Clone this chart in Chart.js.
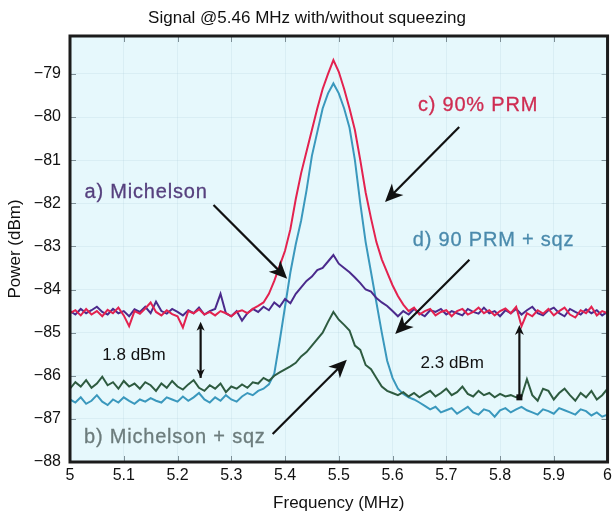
<!DOCTYPE html>
<html>
<head>
<meta charset="utf-8">
<script src="https://cdn.jsdelivr.net/npm/chart.js@4.4.1/dist/chart.umd.min.js"></script>
<style>
  html, body { margin: 0; padding: 0; background: #fff; }
  #wrap { width: 616px; height: 512px; }
</style>
</head>
<body>
<div id="wrap"><canvas id="sqzChart" width="616" height="512"></canvas></div>
<script>
// frequency axis (MHz), one sample every 10 kHz
const freqs = [
  5.00, 5.01, 5.02, 5.03, 5.04, 5.05, 5.06, 5.07, 5.08, 5.09,
  5.10, 5.11, 5.12, 5.13, 5.14, 5.15, 5.16, 5.17, 5.18, 5.19,
  5.20, 5.21, 5.22, 5.23, 5.24, 5.25, 5.26, 5.27, 5.28, 5.29,
  5.30, 5.31, 5.32, 5.33, 5.34, 5.35, 5.36, 5.37, 5.38, 5.39,
  5.40, 5.41, 5.42, 5.43, 5.44, 5.45, 5.46, 5.47, 5.48, 5.49,
  5.50, 5.51, 5.52, 5.53, 5.54, 5.55, 5.56, 5.57, 5.58, 5.59,
  5.60, 5.61, 5.62, 5.63, 5.64, 5.65, 5.66, 5.67, 5.68, 5.69,
  5.70, 5.71, 5.72, 5.73, 5.74, 5.75, 5.76, 5.77, 5.78, 5.79,
  5.80, 5.81, 5.82, 5.83, 5.84, 5.85, 5.86, 5.87, 5.88, 5.89,
  5.90, 5.91, 5.92, 5.93, 5.94, 5.95, 5.96, 5.97, 5.98, 5.99,
  6.00
];

// c) 90% PRM
const prm90 = [
  -84.55, -84.48, -84.60, -84.45, -84.58, -84.50, -84.62, -84.47, -84.55, -84.42,
  -84.60, -84.85, -84.50, -84.56, -84.44, -84.30, -84.52, -84.60, -84.48, -84.57,
  -84.62, -84.88, -84.50, -84.55, -84.46, -84.58, -84.52, -84.60, -84.50, -84.55,
  -84.62, -84.52, -84.48, -84.55, -84.45, -84.38, -84.30, -84.10, -83.80, -83.45,
  -83.10, -82.60, -81.90, -81.30, -80.80, -80.30, -79.80, -79.35, -79.00, -78.68,
  -78.95, -79.35, -79.80, -80.30, -81.00, -81.75, -82.35, -82.90, -83.30, -83.60,
  -83.90, -84.15, -84.35, -84.50, -84.42, -84.58, -84.50, -84.45, -84.60, -84.52,
  -84.48, -84.62, -84.50, -84.45, -84.58, -84.52, -84.42, -84.55, -84.48, -84.60,
  -84.50, -84.44, -84.55, -84.40, -84.85, -84.55, -84.62, -84.48, -84.56, -84.45,
  -84.60, -84.50, -84.42, -84.58, -84.65, -84.48, -84.55, -84.40, -84.60, -84.50,
  -84.55
];

// a) Michelson
const michelson = [
  -84.50, -84.58, -84.45, -84.55, -84.48, -84.40, -84.52, -84.58, -84.45, -84.55,
  -84.50, -84.62, -84.46, -84.52, -84.40, -84.55, -84.28, -84.50, -84.56, -84.45,
  -84.52, -84.60, -84.48, -84.55, -84.42, -84.58, -84.50, -84.45, -84.10, -84.55,
  -84.62, -84.50, -84.72, -84.55, -84.45, -84.52, -84.40, -84.48, -84.30, -84.40,
  -84.22, -84.32, -84.10, -83.95, -83.80, -83.70, -83.55, -83.50, -83.35, -83.20,
  -83.40, -83.50, -83.60, -83.72, -83.85, -84.00, -84.05, -84.20, -84.30, -84.38,
  -84.50, -84.62, -84.50, -84.58, -84.45, -84.55, -84.62, -84.48, -84.52, -84.45,
  -84.58, -84.50, -84.55, -84.60, -84.45, -84.52, -84.56, -84.42, -84.55, -84.50,
  -84.62, -84.48, -84.55, -84.45, -84.58, -84.48, -84.40, -84.55, -84.60, -84.48,
  -84.42, -84.55, -84.62, -84.45, -84.52, -84.58, -84.46, -84.55, -84.48, -84.60,
  -84.52
];

// b) Michelson + sqz
const michelsonSqz = [
  -86.30, -86.15, -86.25, -86.10, -86.28, -86.18, -86.02, -86.22, -86.15, -86.30,
  -86.12, -86.25, -86.18, -86.30, -86.15, -86.22, -86.35, -86.18, -86.28, -86.12,
  -86.25, -86.32, -86.20, -86.10, -86.28, -86.35, -86.22, -86.30, -86.18, -86.38,
  -86.25, -86.30, -86.20, -86.28, -86.15, -86.18, -86.05, -86.12, -86.00, -85.92,
  -85.85, -85.78, -85.70, -85.55, -85.45, -85.30, -85.15, -85.00, -84.75, -84.52,
  -84.70, -84.82, -84.95, -85.30, -85.40, -85.75, -85.85, -86.05, -86.25, -86.35,
  -86.40, -86.45, -86.38, -86.48, -86.40, -86.50, -86.42, -86.35, -86.48, -86.40,
  -86.30, -86.45, -86.38, -86.25, -86.42, -86.48, -86.35, -86.45, -86.40, -86.50,
  -86.42, -86.48, -86.45, -86.50, -86.48, -86.08, -86.45, -86.58, -86.30, -86.35,
  -86.55, -86.40, -86.30, -86.45, -86.58, -86.40, -86.50, -86.35, -86.55, -86.45,
  -86.30
];

// d) 90 PRM + sqz
const prm90Sqz = [
  -86.55, -86.62, -86.50, -86.65, -86.58, -86.45, -86.60, -86.68, -86.55, -86.62,
  -86.50, -86.58, -86.65, -86.55, -86.60, -86.52, -86.58, -86.62, -86.50, -86.55,
  -86.60, -86.48, -86.58, -86.50, -86.40, -86.55, -86.62, -86.50, -86.58, -86.45,
  -86.55, -86.60, -86.48, -86.40, -86.45, -86.35, -86.30, -86.20, -85.95, -85.20,
  -84.40, -83.60, -82.95, -82.40, -81.70, -80.90, -80.35, -79.80, -79.45, -79.22,
  -79.45, -79.80, -80.25, -81.00, -82.00, -82.90, -83.60, -84.30, -85.00, -85.65,
  -86.05, -86.30, -86.42, -86.50, -86.55, -86.62, -86.70, -86.78, -86.72, -86.85,
  -86.80, -86.75, -86.88, -86.80, -86.72, -86.85, -86.90, -86.78, -86.82, -86.95,
  -86.80, -86.75, -86.85, -86.78, -86.72, -86.80, -86.85, -86.90, -86.78, -86.82,
  -86.88, -86.75, -86.80, -86.85, -86.90, -86.78, -86.82, -86.92, -86.85, -86.95,
  -86.90
];

const xTicks = [5, 5.1, 5.2, 5.3, 5.4, 5.5, 5.6, 5.7, 5.8, 5.9, 6];
const yTicks = [-88, -87, -86, -85, -84, -83, -82, -81, -80, -79];

// text annotations placed in data coordinates
const notes = [
  { text: "c) 90% PRM", at: [5.759, -79.72], color: "#cf2d52" },
  { text: "a) Michelson", at: [5.1415, -81.76], color: "#56407e" },
  { text: "d) 90 PRM + sqz", at: [5.788, -82.87], color: "#4a8aac" },
  { text: "b) Michelson + sqz", at: [5.195, -87.44], color: "#6c7c7c" },
  { text: "1.8 dBm", at: [5.119, -85.52], color: "#111", small: true },
  { text: "2.3 dBm", at: [5.711, -85.70], color: "#111", small: true },
];

const arrows = [
  { from: [5.267, -82.04], to: [5.404, -83.75], head: 18 },
  { from: [5.724, -80.23], to: [5.586, -81.97], head: 18 },
  { from: [5.743, -83.31], to: [5.605, -85.03], head: 18 },
  { from: [5.377, -87.35], to: [5.515, -85.63], head: 18 },
  { from: [5.243, -86.05], to: [5.243, -84.75], head: 9, both: true },
  { from: [5.836, -86.50], to: [5.836, -84.82], head: 10, dot: true },
];

const FONT = "'Liberation Sans', Arial, Helvetica, sans-serif";

function arrowHead(ctx, x, y, ang, len) {
  const w = len * 0.45;
  ctx.save();
  ctx.translate(x, y);
  ctx.rotate(ang);
  ctx.beginPath();
  ctx.moveTo(0, 0);
  ctx.lineTo(-len, -w);
  ctx.lineTo(-len * 0.72, 0);
  ctx.lineTo(-len, w);
  ctx.closePath();
  ctx.fill();
  ctx.restore();
}

const decorPlugin = {
  id: "decor",
  beforeDraw(chart) {
    const { ctx, chartArea: a } = chart;
    ctx.save();
    ctx.fillStyle = "#e6f8fc";
    ctx.fillRect(a.left, a.top, a.right - a.left, a.bottom - a.top);
    ctx.restore();
  },
  afterDatasetsDraw(chart) {
    const { ctx, chartArea: a, scales } = chart;
    const sx = scales.x, sy = scales.y;
    ctx.save();

    // small inner tick marks on all four sides
    ctx.strokeStyle = "#7d8f96";
    ctx.lineWidth = 1;
    ctx.beginPath();
    xTicks.forEach((v) => {
      const px = Math.round(sx.getPixelForValue(v)) + 0.5;
      ctx.moveTo(px, a.top); ctx.lineTo(px, a.top + 6);
      ctx.moveTo(px, a.bottom); ctx.lineTo(px, a.bottom - 6);
    });
    yTicks.forEach((v) => {
      const py = Math.round(sy.getPixelForValue(v)) + 0.5;
      ctx.moveTo(a.left, py); ctx.lineTo(a.left + 6, py);
      ctx.moveTo(a.right, py); ctx.lineTo(a.right - 6, py);
    });
    ctx.stroke();

    // annotation text (the coloured labels look slightly heavy in the scan)
    ctx.textAlign = "center";
    ctx.textBaseline = "middle";
    notes.forEach((n) => {
      const px = sx.getPixelForValue(n.at[0]), py = sy.getPixelForValue(n.at[1]);
      ctx.font = n.small ? `17px ${FONT}` : `20px ${FONT}`;
      ctx.letterSpacing = n.small ? "0px" : "0.8px";
      ctx.fillStyle = n.color;
      ctx.fillText(n.text, px, py);
      if (!n.small) {
        ctx.strokeStyle = n.color;
        ctx.lineWidth = 0.3;
        ctx.strokeText(n.text, px, py);
      }
    });
    ctx.letterSpacing = "0px";

    // arrows
    ctx.strokeStyle = "#111";
    ctx.fillStyle = "#111";
    arrows.forEach((ar) => {
      const x1 = sx.getPixelForValue(ar.from[0]), y1 = sy.getPixelForValue(ar.from[1]);
      const x2 = sx.getPixelForValue(ar.to[0]), y2 = sy.getPixelForValue(ar.to[1]);
      const ang = Math.atan2(y2 - y1, x2 - x1);
      ctx.lineWidth = 2.2;
      ctx.beginPath();
      ctx.moveTo(x1, y1);
      ctx.lineTo(x2 - Math.cos(ang) * ar.head * 0.6, y2 - Math.sin(ang) * ar.head * 0.6);
      ctx.stroke();
      arrowHead(ctx, x2, y2, ang, ar.head);
      if (ar.both) arrowHead(ctx, x1, y1, ang + Math.PI, ar.head);
      if (ar.dot) ctx.fillRect(x1 - 3, y1 - 3, 6, 6);
    });

    // heavy frame
    ctx.strokeStyle = "#1b1b1b";
    ctx.lineWidth = 3;
    ctx.strokeRect(a.left, a.top, a.right - a.left, a.bottom - a.top);
    ctx.restore();
  },
};

const series = [
  { label: "c) 90% PRM", data: prm90, color: "#e3224f" },
  { label: "a) Michelson", data: michelson, color: "#4b2a8c" },
  { label: "b) Michelson + sqz", data: michelsonSqz, color: "#2e5b40" },
  { label: "d) 90 PRM + sqz", data: prm90Sqz, color: "#3a98bd" },
];

new Chart(document.getElementById("sqzChart"), {
  type: "line",
  data: {
    datasets: series.map((s) => ({
      label: s.label,
      data: freqs.map((f, i) => ({ x: f, y: s.data[i] })),
      borderColor: s.color,
      borderWidth: 2,
      pointRadius: 0,
      tension: 0,
    })),
  },
  options: {
    responsive: false,
    animation: false,
    layout: { autoPadding: false, padding: { left: 0, right: 2, top: 0, bottom: 0 } },
    plugins: {
      legend: { display: false },
      tooltip: { enabled: false },
      title: {
        display: true,
        text: "Signal @5.46 MHz with/without squeezing",
        color: "#111",
        font: { family: FONT, size: 17, weight: "normal" },
        padding: { top: 8, bottom: 7.6 },
      },
    },
    scales: {
      x: {
        type: "linear",
        min: 5,
        max: 6,
        afterFit: (s) => { s.height = 50; },
        afterBuildTicks: (s) => { s.ticks = xTicks.map((v) => ({ value: v })); },
        grid: { color: "rgba(160,195,210,0.18)", drawTicks: false },
        border: { display: false },
        ticks: {
          color: "#111",
          padding: 4,
          maxRotation: 0,
          font: { family: FONT, size: 16 },
          callback: (v) => String(v),
        },
        title: {
          display: true,
          text: "Frequency (MHz)",
          color: "#111",
          font: { family: FONT, size: 17, lineHeight: 1 },
          padding: { top: 0, bottom: 0 },
        },
      },
      y: {
        type: "linear",
        min: -88,
        max: -78.12,
        afterFit: (s) => { s.width = 70; },
        afterBuildTicks: (s) => { s.ticks = yTicks.map((v) => ({ value: v })); },
        grid: { color: "rgba(160,195,210,0.18)", drawTicks: false },
        border: { display: false },
        ticks: {
          color: "#111",
          padding: 9,
          font: { family: FONT, size: 16 },
          callback: (v) => String(v).replace("-", "\u2212"),
        },
        title: {
          display: true,
          text: "Power (dBm)",
          color: "#111",
          font: { family: FONT, size: 17, lineHeight: 1 },
          padding: { top: 7, bottom: 0 },
        },
      },
    },
  },
  plugins: [decorPlugin],
});
</script>
</body>
</html>
